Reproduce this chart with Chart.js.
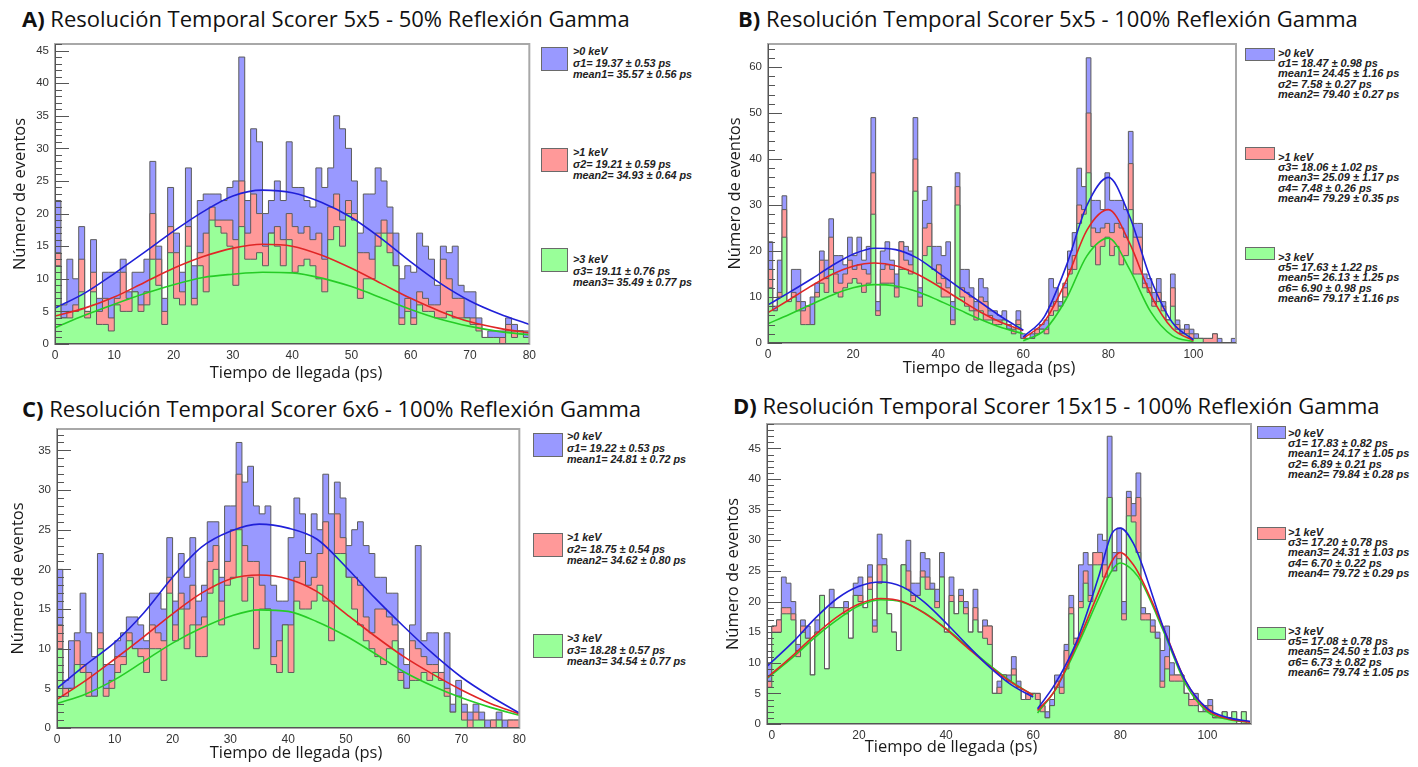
<!DOCTYPE html>
<html>
<head>
<meta charset="utf-8">
<script src="https://cdn.jsdelivr.net/npm/chart.js@4.4.1/dist/chart.umd.min.js"></script>
<style>
  body { margin: 0; background: #fff; width: 1418px; height: 767px; position: relative; overflow: hidden; }
  canvas { position: absolute; }
  .title { position: absolute; font-family: 'Open Sans', sans-serif; font-size: 22px; line-height: 26px; color: #111; white-space: nowrap; }
  .xtitle { position: absolute; width: 240px; margin-left: -120px; text-align: center; font-family: 'Open Sans', sans-serif; font-size: 16.5px; line-height: 20px; color: #1a1a1a; white-space: nowrap; }
  .sw { position: absolute; box-sizing: border-box; border: 1px solid #6a6a6a; }
  .leg { position: absolute; font: italic bold 10.8px 'Liberation Sans', Arial, sans-serif; color: #222; white-space: nowrap; }
  .leg.tall { line-height: 11.5px; }
  .leg.short { line-height: 10.2px; font-size: 11px; }
</style>
</head>
<body>

<div class="title" style="left:22px;top:5px"><b>A)</b> Resolución Temporal Scorer 5x5 - 50% Reflexión Gamma</div>
<div class="title" style="left:738px;top:5px"><b>B)</b> Resolución Temporal Scorer 5x5 - 100% Reflexión Gamma</div>
<div class="title" style="left:22px;top:395px"><b>C)</b> Resolución Temporal Scorer 6x6 - 100% Reflexión Gamma</div>
<div class="title" style="left:733px;top:392px"><b>D)</b> Resolución Temporal Scorer 15x15 - 100% Reflexión Gamma</div>

<canvas id="chartA" width="540" height="350" style="left:0;top:30px"></canvas>
<canvas id="chartB" width="525" height="350" style="left:715px;top:30px"></canvas>
<canvas id="chartC" width="530" height="352" style="left:0;top:415px"></canvas>
<canvas id="chartD" width="540" height="357" style="left:715px;top:410px"></canvas>

<div class="xtitle" style="left:296px;top:362px">Tiempo de llegada (ps)</div>
<div class="xtitle" style="left:989px;top:357px">Tiempo de llegada (ps)</div>
<div class="xtitle" style="left:296px;top:742px">Tiempo de llegada (ps)</div>
<div class="xtitle" style="left:951px;top:736px">Tiempo de llegada (ps)</div>

<!-- legend A -->
<div class="sw" style="left:541px;top:47px;width:27px;height:24px;background:#9999ff"></div>
<div class="leg tall" style="left:573px;top:46px">&gt;0 keV<br>σ1= 19.37 ± 0.53 ps<br>mean1= 35.57 ± 0.56 ps</div>
<div class="sw" style="left:541px;top:148px;width:27px;height:24px;background:#ff9999"></div>
<div class="leg tall" style="left:573px;top:147px">&gt;1 keV<br>σ2= 19.21 ± 0.59 ps<br>mean2= 34.93 ± 0.64 ps</div>
<div class="sw" style="left:541px;top:248px;width:27px;height:24px;background:#99ff99"></div>
<div class="leg tall" style="left:573px;top:254px">&gt;3 keV<br>σ3= 19.11 ± 0.76 ps<br>mean3= 35.49 ± 0.77 ps</div>

<!-- legend B -->
<div class="sw" style="left:1245px;top:48px;width:30px;height:13px;background:#9999ff"></div>
<div class="leg short" style="left:1278px;top:48px">&gt;0 keV<br>σ1= 18.47 ± 0.98 ps<br>mean1= 24.45 ± 1.16 ps<br>σ2= 7.58 ± 0.27 ps<br>mean2= 79.40 ± 0.27 ps</div>
<div class="sw" style="left:1245px;top:147px;width:30px;height:13px;background:#ff9999"></div>
<div class="leg short" style="left:1278px;top:152px">&gt;1 keV<br>σ3= 18.06 ± 1.02 ps<br>mean3= 25.09 ± 1.17 ps<br>σ4= 7.48 ± 0.26 ps<br>mean4= 79.29 ± 0.35 ps</div>
<div class="sw" style="left:1245px;top:247px;width:30px;height:13px;background:#99ff99"></div>
<div class="leg short" style="left:1278px;top:252px">&gt;3 keV<br>σ5= 17.63 ± 1.22 ps<br>mean5= 26.13 ± 1.25 ps<br>σ6= 6.90 ± 0.98 ps<br>mean6= 79.17 ± 1.16 ps</div>

<!-- legend C -->
<div class="sw" style="left:533px;top:433px;width:30px;height:24px;background:#9999ff"></div>
<div class="leg tall" style="left:567px;top:431px">&gt;0 keV<br>σ1= 19.22 ± 0.53 ps<br>mean1= 24.81 ± 0.72 ps</div>
<div class="sw" style="left:533px;top:533px;width:30px;height:24px;background:#ff9999"></div>
<div class="leg tall" style="left:567px;top:532px">&gt;1 keV<br>σ2= 18.75 ± 0.54 ps<br>mean2= 34.62 ± 0.80 ps</div>
<div class="sw" style="left:533px;top:634px;width:30px;height:24px;background:#99ff99"></div>
<div class="leg tall" style="left:567px;top:633px">&gt;3 keV<br>σ3= 18.28 ± 0.57 ps<br>mean3= 34.54 ± 0.77 ps</div>

<!-- legend D -->
<div class="sw" style="left:1257px;top:426px;width:29px;height:13px;background:#9999ff"></div>
<div class="leg short" style="left:1288px;top:428px">&gt;0 keV<br>σ1= 17.83 ± 0.82 ps<br>mean1= 24.17 ± 1.05 ps<br>σ2= 6.89 ± 0.21 ps<br>mean2= 79.84 ± 0.28 ps</div>
<div class="sw" style="left:1257px;top:527px;width:29px;height:13px;background:#ff9999"></div>
<div class="leg short" style="left:1288px;top:527px">&gt;1 keV<br>σ3= 17.20 ± 0.78 ps<br>mean3= 24.31 ± 1.03 ps<br>σ4= 6.70 ± 0.22 ps<br>mean4= 79.72 ± 0.29 ps</div>
<div class="sw" style="left:1257px;top:627px;width:29px;height:13px;background:#99ff99"></div>
<div class="leg short" style="left:1288px;top:626px">&gt;3 keV<br>σ5= 17.08 ± 0.78 ps<br>mean5= 24.50 ± 1.03 ps<br>σ6= 6.73 ± 0.82 ps<br>mean6= 79.74 ± 1.05 ps</div>

<script>
// ---- A: scorer 5x5, 50% reflection (80 bins of 1 ps) ----
const binsA = { start: 0, width: 1 };
const blueA  = [22,6,13,10,18,5,16,7,11,11, 11,13,8,11,11,13,28,15,7,24, 17,11,27,12,22,23,23,23,22,24,
                25,44,22,33,31,20,22,25,22,31, 24,24,22,21,27,24,27,35,33,30, 25,17,23,23,27,25,21,17,10,12,
                11,17,15,13,9,15,14,15,9,8, 8,4,1,2,2,2,4,3,2,2];
const redA   = [14,4,5,6,13,5,11,5,7,4, 7,11,7,8,6,8,20,13,5,18, 14,8,18,7,14,17,21,19,19,19,
                16,25,17,23,20,15,17,18,16,20, 18,17,18,16,17,13,21,23,19,22, 20,14,14,13,17,19,17,12,4,7,
                4,8,7,6,6,13,10,7,7,4, 4,3,1,1,1,1,3,2,2,1];
const greenA = [12,4,4,5,8,4,8,3,3,2, 6,5,5,8,5,6,13,9,3,14, 7,6,15,6,12,8,19,18,17,15,
                9,18,13,13,14,12,17,15,12,16, 11,12,13,12,10,8,16,18,15,20, 19,7,10,10,15,17,14,12,3,5,
                3,6,5,5,4,4,5,4,4,4, 3,2,1,1,1,0,2,1,2,1];
const fitXA      = [0,5,10,15,20,25,30,35,40,45,50,55,60,65,70,75,80];
const blueFitA   = [5.5,7.8,10.8,14.0,17.3,20.3,22.7,23.6,23.2,21.7,19.4,16.2,12.6,9.3,6.6,4.6,3.0];
const redFitA    = [4.3,5.5,7.2,9.4,11.6,13.4,14.7,15.3,15.0,13.6,11.6,9.3,7.0,5.0,3.4,2.4,1.7];
const greenFitA  = [2.5,4.4,6.1,7.7,9.1,10.2,10.7,11.0,10.9,10.1,8.8,7.1,5.3,3.8,2.7,1.9,1.4];
const xTicksA = [0,10,20,30,40,50,60,70,80];
const yTicksA = [0,5,10,15,20,25,30,35,40,45];

// ---- B: scorer 5x5, 100% reflection (100 bins of 1.1 ps) ----
const binsB = { start: 0, width: 1.1 };
const blueB  = [22,8,18,32,9,16,16,9,8,10, 13,20,18,27,19,19,17,23,19,23, 18,21,49,9,20,22,18,15,22,21,
                20,49,12,31,34,21,21,19,22,9, 37,16,16,12,9,14,12,7,7,6, 7,4,3,7,2,1,2,3,4,5,
                14,12,9,13,20,24,38,34,62,31, 31,29,37,31,31,31,29,46,26,26, 15,14,11,14,9,5,15,5,3,4,
                3,2,1,1,1,2,1,0,0,1];
const redB   = [16,7,11,29,9,11,9,7,8,4, 11,18,14,23,15,13,15,18,16,17, 16,15,37,7,16,17,16,12,22,18,
                17,40,10,25,26,16,17,14,12,5, 34,12,11,10,7,10,9,6,5,5, 5,3,3,5,1,1,1,3,3,3,
                8,9,8,12,16,19,30,29,50,25, 24,25,26,24,26,25,23,39,23,23, 13,12,9,11,8,5,12,4,2,3,
                2,1,1,1,1,2,0,0,0,0];
const greenB = [12,7,10,23,9,10,7,4,4,4, 10,13,11,16,11,10,12,13,14,13, 11,13,28,6,13,13,13,10,16,16,
                15,33,8,19,21,16,13,10,10,4, 30,10,8,7,5,7,5,5,4,4, 5,3,2,4,1,1,1,2,3,2,
                6,7,8,10,15,16,26,28,37,21, 17,21,23,19,21,17,19,29,15,15, 12,11,8,9,7,5,8,3,2,2,
                1,1,1,0,0,0,0,0,0,0];
const fitXB1     = [0,5,10,15,20,25,30,35,40,45,50,55,60];
const blueFitB1  = [8.3,11.0,13.8,16.8,19.3,20.6,20.3,18.5,15.3,12.0,8.8,5.6,2.8];
const redFitB1   = [6.6,9.4,12.3,14.9,16.7,17.4,16.8,15.0,12.4,9.5,6.7,4.4,2.7];
const greenFitB1 = [4.2,6.2,8.3,10.4,12.0,12.7,12.4,11.2,9.3,7.2,5.1,3.3,2.0];
const fitXB2     = [60,65,70,75,80,85,90,95,100];
const blueFitB2  = [1.3,5.8,16.5,30.0,36.0,27.5,13.8,4.5,0.7];
const redFitB2   = [1.0,4.7,13.4,24.6,29.0,21.7,10.4,3.2,0.5];
const greenFitB2 = [0.5,2.8,9.4,19.0,22.8,16.0,6.7,1.6,0.3];
const xTicksB = [0,20,40,60,80,100];
const yTicksB = [0,10,20,30,40,50,60];

// ---- C: scorer 6x6, 100% reflection (80 bins of 1 ps) ----
const binsC = { start: 0, width: 1 };
const blueC  = [20,6,11,12,17,12,9,22,8,8, 11,12,14,14,13,11,17,17,15,24, 16,22,19,24,16,18,26,26,19,28,
                28,36,31,33,28,27,28,18,16,16, 24,29,27,22,27,25,32,27,31,29, 23,25,26,23,22,19,19,17,17,10,
                8,13,23,11,12,12,7,12,3,6, 3,2,3,2,1,1,2,1,1,1];
const redC   = [13,5,5,11,8,7,4,12,5,6, 9,9,12,10,10,10,13,12,11,19, 13,17,15,18,13,14,21,23,16,21,
                25,32,23,21,21,18,15,9,11,13, 13,19,21,18,19,22,26,16,27,24, 19,19,18,14,12,15,15,14,13,7,
                5,11,10,9,8,8,7,5,2,4, 2,1,2,1,0,1,1,0,1,1];
const greenC = [10,4,5,8,7,4,4,10,4,5, 7,8,11,10,9,7,10,10,6,17, 11,15,10,13,9,9,17,20,13,18,
                19,25,16,19,10,15,15,8,7,13, 7,16,15,15,16,18,16,11,22,22, 19,15,13,11,10,9,8,10,11,6,
                5,6,6,7,6,7,6,4,2,4, 1,0,1,1,0,0,1,0,0,0];
const fitXC      = [0,5,10,15,20,25,30,35,40,45,50,55,60,65,70,75,80];
const blueFitC   = [5.0,8.0,10.8,14.5,19.0,22.8,24.8,25.7,25.2,23.8,20.3,16.4,12.8,9.4,6.4,4.0,1.9];
const redFitC    = [3.6,6.0,8.7,11.5,14.4,17.0,18.8,19.3,18.8,17.2,14.4,11.6,9.0,6.8,4.8,3.1,1.8];
const greenFitC  = [3.1,4.3,6.1,8.4,10.7,12.6,14.1,14.9,14.7,13.4,11.6,9.4,7.1,5.3,3.8,2.6,1.6];
const xTicksC = [0,10,20,30,40,50,60,70,80];
const yTicksC = [0,5,10,15,20,25,30,35];

// ---- D: scorer 15x15, 100% reflection (101 bins of 1.1 ps from -1.1) ----
const binsD = { start: -1.1, width: 1.1 };
const blueD  = [10,16,17,24,23,20,13,17,16,8, 17,21,9,22,19,19,20,14,23,24, 19,26,17,31,27,18,15,12,26,30,
                23,23,28,27,23,22,28,15,24,18, 22,20,15,22,15,17,16,5,7,8, 8,11,7,4,5,5,5,3,2,4,
                8,8,13,21,14,26,28,26,28,31, 30,47,28,32,20,38,36,41,19,18, 17,15,12,16,10,8,8,5,4,5,
                2,3,4,1,1,2,1,2,0,2, 0];
const redD   = [7,16,17,19,19,18,12,16,14,8, 15,21,9,19,19,19,19,14,21,21, 19,24,16,26,26,18,15,12,26,25,
                21,21,25,24,22,20,24,15,21,18, 21,19,15,19,15,16,16,5,6,8, 7,9,6,4,5,5,5,3,1,3,
                7,6,12,19,14,20,25,21,28,28, 26,37,25,28,18,37,34,37,18,18, 16,14,7,11,8,8,8,5,4,4,
                2,2,3,1,1,2,1,2,0,2, 0];
const greenD = [6,15,15,18,18,17,11,15,14,8, 15,21,9,19,19,19,18,14,21,20, 19,22,15,23,26,18,15,12,26,22,
                20,21,24,22,22,19,24,15,20,18, 20,18,15,17,15,14,13,5,5,8, 7,8,6,4,4,5,4,2,1,3,
                6,5,9,18,13,19,23,20,26,26, 24,37,25,27,17,34,33,28,17,17, 15,14,6,9,7,7,7,5,3,3,
                2,2,2,1,1,2,1,2,0,2, 0];
const fitXD1     = [-1,5,10,15,20,25,30,35,40,45,50,55,60];
const blueFitD1  = [9.5,13.5,17.3,20.5,22.5,23.2,22.4,19.9,16.5,12.8,9.3,6.4,4.4];
const redFitD1   = [7.6,11.3,14.6,17.5,19.6,20.5,20.0,18.1,15.5,12.4,9.4,6.8,4.7];
const greenFitD1 = [7.5,11.0,14.2,17.0,19.3,20.3,19.9,18.2,15.6,12.6,9.6,6.9,4.7];
const fitXD2     = [61,65,70,75,78,80,83,85,90,95,100,105,110];
const blueFitD2  = [2.5,6.5,13.5,24.0,31.0,32.0,29.5,26.0,15.5,7.0,2.5,1.0,0.4];
const redFitD2   = [2.2,5.5,13.0,21.5,26.5,28.0,26.0,23.5,15.5,7.0,2.3,0.8,0.3];
const greenFitD2 = [1.8,5.5,12.5,20.5,25.0,26.3,25.0,23.0,15.0,6.5,2.0,0.7,0.3];
const xTicksD = [0,20,40,60,80,100];
const yTicksD = [0,5,10,15,20,25,30,35,40,45];

const FILL = { blue: '#9999ff', red: '#ff9999', green: '#99ff99' };
const FIT = { blue: '#2020d8', red: '#e02626', green: '#26cc26' };
const OUTLINE = '#5c5c5c';

// step outline from bin counts: closed down to zero at both ends
function histPoints(bins, counts) {
  const pts = [{ x: bins.start, y: 0 }];
  counts.forEach((c, i) => pts.push({ x: bins.start + i * bins.width, y: c }));
  const end = bins.start + counts.length * bins.width;
  pts.push({ x: end, y: counts[counts.length - 1] });
  pts.push({ x: end, y: 0 });
  return pts;
}

function histSet(bins, counts, fill, order) {
  return {
    data: histPoints(bins, counts),
    stepped: true,
    fill: 'origin',
    backgroundColor: fill,
    borderColor: OUTLINE,
    borderWidth: 1,
    pointRadius: 0,
    order
  };
}

function fitSet(xs, ys, color) {
  return {
    data: xs.map((x, i) => ({ x, y: ys[i] })),
    borderColor: color,
    borderWidth: 1.6,
    pointRadius: 0,
    fill: false,
    cubicInterpolationMode: 'monotone',
    order: 0
  };
}

// ROOT-like frame: grey box, dark y axis, ticks pointing inward
const frameTicks = {
  id: 'frameTicks',
  afterDatasetsDraw(chart, args, opts) {
    const { ctx, chartArea: a, scales: { y } } = chart;
    ctx.save();
    ctx.strokeStyle = '#a8a8a8';
    ctx.lineWidth = 2;
    ctx.strokeRect(a.left, a.top, a.right - a.left, a.bottom - a.top);
    ctx.strokeStyle = '#555';
    ctx.lineWidth = 1;
    ctx.beginPath();
    ctx.moveTo(a.left + 0.5, a.top);
    ctx.lineTo(a.left + 0.5, a.bottom);
    ctx.moveTo(a.left, a.bottom - 0.5);
    ctx.lineTo(a.right, a.bottom - 0.5);
    for (let v = 0; v <= y.max + 1e-6; v += opts.minor) {
      const py = Math.round(y.getPixelForValue(v)) + 0.5;
      const isMajor = Math.abs(v / opts.major - Math.round(v / opts.major)) < 1e-6;
      ctx.moveTo(a.left, py);
      ctx.lineTo(a.left + (isMajor ? 14 : 7), py);
    }
    ctx.stroke();
    ctx.restore();
  }
};

function drawPanel(p) {
  const datasets = [
    histSet(p.bins, p.blue, FILL.blue, 3),
    histSet(p.bins, p.red, FILL.red, 2),
    histSet(p.bins, p.green, FILL.green, 1)
  ];
  p.fits.forEach(f => {
    datasets.push(fitSet(f.x, f.blue, FIT.blue));
    datasets.push(fitSet(f.x, f.red, FIT.red));
    datasets.push(fitSet(f.x, f.green, FIT.green));
  });
  new Chart(document.getElementById(p.id), {
    type: 'line',
    data: { datasets },
    plugins: [frameTicks],
    options: {
      responsive: false,
      animation: false,
      devicePixelRatio: 1,
      layout: { autoPadding: false, padding: { top: 14, right: p.padRight, left: 0, bottom: 0 } },
      plugins: {
        legend: { display: false },
        tooltip: { enabled: false },
        frameTicks: { minor: p.minor, major: p.major }
      },
      scales: {
        x: {
          type: 'linear',
          min: p.xMin,
          max: p.xMax,
          grid: { display: false, drawTicks: false },
          border: { display: false },
          afterBuildTicks: s => { s.ticks = p.xTicks.map(v => ({ value: v })); },
          afterFit: s => { s.height = p.xHeight; },
          ticks: { padding: 4, color: '#333', font: { family: "'Liberation Sans', Arial, sans-serif", size: 12 } }
        },
        y: {
          min: 0,
          max: p.yMax,
          grid: { display: false, drawTicks: false },
          border: { display: false },
          afterBuildTicks: s => { s.ticks = p.yTicks.map(v => ({ value: v })); },
          afterFit: s => { s.width = p.yWidth; },
          ticks: { padding: 6, color: '#333', font: { family: "'Liberation Sans', Arial, sans-serif", size: 11.5 } },
          title: {
            display: true,
            text: 'Número de eventos',
            color: '#1a1a1a',
            font: { family: "'Open Sans', sans-serif", size: 16.5 },
            padding: { top: p.yTitlePad, bottom: 0 }
          }
        }
      }
    }
  });
}

drawPanel({
  id: 'chartA', bins: binsA, blue: blueA, red: redA, green: greenA,
  fits: [{ x: fitXA, blue: blueFitA, red: redFitA, green: greenFitA }],
  xMin: 0, xMax: 80, yMax: 46, xTicks: xTicksA, yTicks: yTicksA, minor: 1, major: 5,
  yWidth: 55, xHeight: 36, padRight: 5, yTitlePad: 10
});
drawPanel({
  id: 'chartB', bins: binsB, blue: blueB, red: redB, green: greenB,
  fits: [{ x: fitXB1, blue: blueFitB1, red: redFitB1, green: greenFitB1 },
         { x: fitXB2, blue: blueFitB2, red: redFitB2, green: greenFitB2 }],
  xMin: 0, xMax: 110, yMax: 65, xTicks: xTicksB, yTicks: yTicksB, minor: 2, major: 10,
  yWidth: 53, xHeight: 37, padRight: 4, yTitlePad: 10
});
drawPanel({
  id: 'chartC', bins: binsC, blue: blueC, red: redC, green: greenC,
  fits: [{ x: fitXC, blue: blueFitC, red: redFitC, green: greenFitC }],
  xMin: 0, xMax: 80, yMax: 37.7, xTicks: xTicksC, yTicks: yTicksC, minor: 1, major: 5,
  yWidth: 57, xHeight: 39, padRight: 4, yTitlePad: 8
});
drawPanel({
  id: 'chartD', bins: binsD, blue: blueD, red: redD, green: greenD,
  fits: [{ x: fitXD1, blue: blueFitD1, red: redFitD1, green: greenFitD1 },
         { x: fitXD2, blue: blueFitD2, red: redFitD2, green: greenFitD2 }],
  xMin: -1.1, xMax: 110, yMax: 49, xTicks: xTicksD, yTicks: yTicksD, minor: 1, major: 5,
  yWidth: 52, xHeight: 43, padRight: 4, yTitlePad: 8
});
</script>
</body>
</html>
